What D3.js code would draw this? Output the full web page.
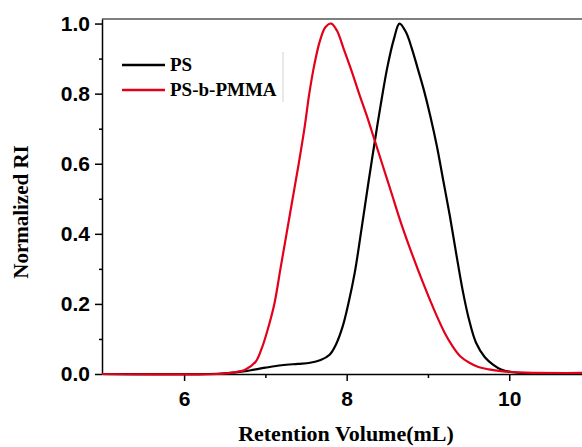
<!DOCTYPE html>
<html>
<head>
<meta charset="utf-8">
<script src="https://cdn.jsdelivr.net/npm/d3@7"></script>
<style>
	body { margin: 0; background: #fff; }
	svg { display: block; }
</style>
</head>
<body>
<div id="chart01"></div>
<script>
// Retention volume (mL) and normalized RI
var psX = [4.99, 6.3, 6.5, 6.75, 7.0, 7.2, 7.4, 7.55, 7.68, 7.79, 7.87, 7.95, 8.02, 8.1, 8.18, 8.27, 8.34, 8.42, 8.5, 8.58, 8.65, 8.73, 8.8, 8.87, 8.95, 9.03, 9.11, 9.19, 9.27, 9.35, 9.43, 9.5, 9.59, 9.7, 9.8, 9.9, 10.05, 10.5, 10.9];
var psY = [0, 0, 0.002, 0.008, 0.018, 0.025, 0.029, 0.032, 0.04, 0.055, 0.085, 0.135, 0.2, 0.29, 0.41, 0.55, 0.655, 0.77, 0.875, 0.955, 1.0, 0.975, 0.93, 0.875, 0.81, 0.735, 0.65, 0.55, 0.45, 0.34, 0.235, 0.16, 0.09, 0.048, 0.027, 0.013, 0.005, 0.002, 0.002];

var pmmaX = [4.99, 6.4, 6.6, 6.75, 6.88, 6.95, 7.02, 7.11, 7.185, 7.26, 7.335, 7.41, 7.48, 7.54, 7.6, 7.67, 7.74, 7.81, 7.88, 7.96, 8.06, 8.16, 8.25, 8.34, 8.45, 8.56, 8.67, 8.8, 8.94, 9.1, 9.2, 9.3, 9.4, 9.51, 9.62, 9.75, 9.9, 10.2, 10.9];
var pmmaY = [0, 0, 0.004, 0.012, 0.035, 0.07, 0.12, 0.2, 0.3, 0.4, 0.5, 0.6, 0.7, 0.8, 0.88, 0.95, 0.99, 1.0, 0.98, 0.93, 0.865, 0.795, 0.735, 0.67, 0.59, 0.51, 0.43, 0.345, 0.26, 0.17, 0.12, 0.08, 0.05, 0.032, 0.02, 0.013, 0.008, 0.004, 0.003];

var seriesNames = ["PS", "PS-b-PMMA"];
var seriesColors = ["#000000", "#e3001b"];

var xMajor = [6, 8, 10];
var xMinor = [7, 9];
var yMajor = [0, 0.2, 0.4, 0.6, 0.8, 1.0];
var yMinor = [0.1, 0.3, 0.5, 0.7, 0.9];

var width = 582;
var height = 447;
var margin = { top: 19, right: 0, bottom: 72, left: 102 };

var svg = d3.select("#chart01").append("svg")
	.attr("width", width)
	.attr("height", height);

var x = d3.scaleLinear().domain([4.99, 10.895]).range([margin.left, width - margin.right]);
var y = d3.scaleLinear().domain([0, 1.013]).range([height - margin.bottom - 1, margin.top]);

var series = [
	psX.map((d, i) => ({ x: d, y: psY[i] })),
	pmmaX.map((d, i) => ({ x: d, y: pmmaY[i] }))
];

// top frame line
svg.append("line")
	.attr("x1", margin.left).attr("x2", width)
	.attr("y1", margin.top).attr("y2", margin.top)
	.attr("stroke", "#555").attr("stroke-width", 1.5);

// minor ticks
svg.append("g")
	.attr("transform", `translate(0, ${y(0)})`)
	.call(d3.axisBottom(x).tickValues(xMinor).tickSize(4).tickFormat("").tickSizeOuter(0))
	.call((g) => g.select(".domain").remove())
	.selectAll("line").attr("stroke-width", 1.5);
svg.append("g")
	.attr("transform", `translate(${margin.left}, 0)`)
	.call(d3.axisLeft(y).tickValues(yMinor).tickSize(3).tickFormat("").tickSizeOuter(0))
	.call((g) => g.select(".domain").remove())
	.selectAll("line").attr("stroke-width", 1.5);

// X-axis
var xAxis = svg.append("g")
	.attr("transform", `translate(0, ${y(0)})`)
	.call(d3.axisBottom(x).tickValues(xMajor).tickSize(7).tickPadding(10).tickSizeOuter(0).tickFormat(d3.format("d")));
xAxis.select(".domain").attr("stroke-width", 1.5);
xAxis.selectAll("line").attr("stroke-width", 1.5);
xAxis.selectAll("text")
	.style("font-family", "'Liberation Sans', Arial, sans-serif")
	.style("font-weight", "bold")
	.style("font-size", "21px");

// Y-axis
var yAxis = svg.append("g")
	.attr("transform", `translate(${margin.left}, 0)`)
	.call(d3.axisLeft(y).tickValues(yMajor).tickSize(7).tickPadding(5).tickSizeOuter(0).tickFormat(d3.format(".1f")));
yAxis.select(".domain").attr("stroke-width", 1.5);
yAxis.selectAll("line").attr("stroke-width", 1.5);
yAxis.selectAll("text")
	.style("font-family", "'Liberation Sans', Arial, sans-serif")
	.style("font-weight", "bold")
	.style("font-size", "21px");

// curves
var line = d3.line()
	.x((d) => x(d.x))
	.y((d) => y(Math.max(0, d.y)))
	.curve(d3.curveCatmullRom.alpha(0.5));

svg.selectAll(".curve")
	.data(series)
	.join("path")
	.attr("class", "curve")
	.attr("d", line)
	.attr("fill", "none")
	.attr("stroke", (d, i) => seriesColors[i])
	.attr("stroke-width", 2.2);

// legend
var legend = svg.append("g").attr("transform", "translate(122, 65)");
legend.selectAll("line")
	.data(seriesNames)
	.join("line")
	.attr("x1", 0).attr("x2", 43)
	.attr("y1", (d, i) => i * 25).attr("y2", (d, i) => i * 25)
	.attr("stroke", (d, i) => seriesColors[i])
	.attr("stroke-width", 2.5);
legend.selectAll("text")
	.data(seriesNames)
	.join("text")
	.attr("x", 48)
	.attr("y", (d, i) => i * 25 + 6)
	.style("font-family", "'Liberation Serif', 'Times New Roman', serif")
	.style("font-weight", "bold")
	.style("font-size", "19px")
	.text((d) => d);
svg.append("line")
	.attr("x1", 283).attr("x2", 283)
	.attr("y1", 52).attr("y2", 102)
	.attr("stroke", "#d0d0d0").attr("stroke-width", 1);

// Add label to X-axis
svg.append("text")
	.attr("x", 346)
	.attr("y", 441)
	.attr("text-anchor", "middle")
	.style("font-family", "'Liberation Serif', 'Times New Roman', serif")
	.style("font-weight", "bold")
	.style("font-size", "22px")
	.text("Retention Volume(mL)");

// Add label to Y-axis
svg.append("text")
	.attr("transform", "translate(28, 212) rotate(-90)")
	.attr("text-anchor", "middle")
	.style("font-family", "'Liberation Serif', 'Times New Roman', serif")
	.style("font-weight", "bold")
	.style("font-size", "21px")
	.text("Normalized RI");
</script>
</body>
</html>
